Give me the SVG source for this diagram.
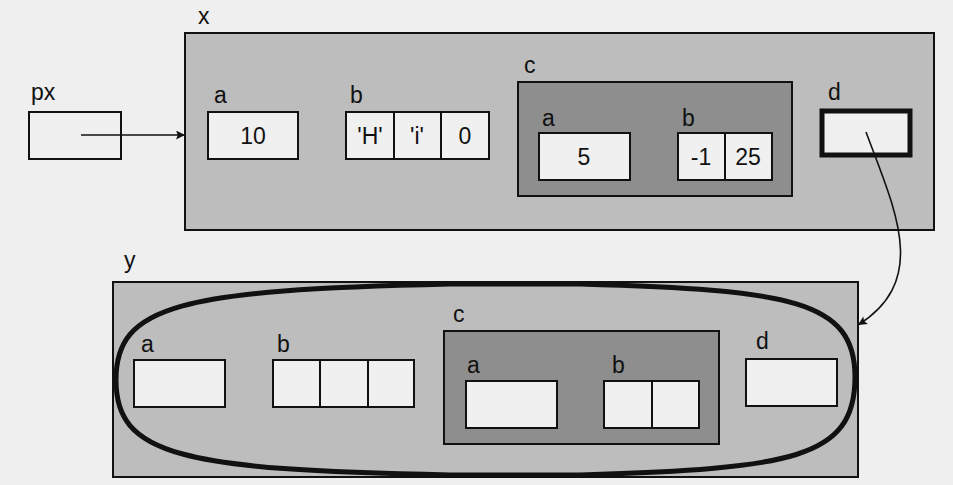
<svg xmlns="http://www.w3.org/2000/svg" width="953" height="485" viewBox="0 0 953 485">
<defs>
<style>
.lbl{font-family:"Liberation Sans",Arial,sans-serif;font-size:23px;fill:#111}
.val{font-family:"Liberation Sans",Arial,sans-serif;font-size:23px;fill:#111;text-anchor:middle}
.cell{fill:#f0f0f0;stroke:#111;stroke-width:2}
.outer{fill:#bdbdbd;stroke:#111;stroke-width:2}
.inner{fill:#8e8e8e;stroke:#111;stroke-width:2}
.conn{fill:none;stroke:#111;stroke-width:1.6}
</style>
<marker id="ah" viewBox="0 0 10 10" refX="10" refY="5" markerWidth="13" markerHeight="9" markerUnits="userSpaceOnUse" orient="auto">
<path d="M0,0 L10,5 L0,10 L2,5 Z" fill="#111"/>
</marker>
</defs>
<rect x="0" y="0" width="953" height="485" fill="#efefef"/>

<g id="px">
<text class="lbl" x="31" y="100">px</text>
<rect class="cell" x="29" y="112" width="92" height="47"/>
</g>

<g id="x">
<text class="lbl" x="198" y="24">x</text>
<rect class="outer" x="185" y="33" width="749" height="197"/>
<g id="x-a">
<text class="lbl" x="214" y="103">a</text>
<rect class="cell" x="208" y="112" width="90" height="47"/>
<text class="val" x="253" y="144">10</text>
</g>
<g id="x-b">
<text class="lbl" x="350" y="103">b</text>
<rect class="cell" x="346" y="112" width="143" height="47"/>
<line x1="394" y1="112" x2="394" y2="159" stroke="#111" stroke-width="2"/>
<line x1="441" y1="112" x2="441" y2="159" stroke="#111" stroke-width="2"/>
<text class="val" x="370" y="144">'H'</text>
<text class="val" x="417" y="144">'i'</text>
<text class="val" x="465" y="144">0</text>
</g>
<g id="x-c">
<text class="lbl" x="524" y="73">c</text>
<rect class="inner" x="518" y="82" width="274" height="114"/>
<text class="lbl" x="542" y="126">a</text>
<rect class="cell" x="539" y="133" width="91" height="47"/>
<text class="val" x="584" y="165">5</text>
<text class="lbl" x="682" y="126">b</text>
<rect class="cell" x="678" y="133" width="94" height="47"/>
<line x1="725" y1="133" x2="725" y2="180" stroke="#111" stroke-width="2"/>
<text class="val" x="701" y="165">-1</text>
<text class="val" x="748" y="165">25</text>
</g>
<g id="x-d">
<text class="lbl" x="828" y="100">d</text>
<rect x="822" y="111" width="88" height="44" fill="#f0f0f0" stroke="#111" stroke-width="5"/>
</g>
</g>

<g id="y">
<text class="lbl" x="124" y="268">y</text>
<rect class="outer" x="113" y="282" width="745" height="195"/>
<g id="y-a">
<text class="lbl" x="141" y="352">a</text>
<rect class="cell" x="134" y="360" width="91" height="47"/>
</g>
<g id="y-b">
<text class="lbl" x="277" y="352">b</text>
<rect class="cell" x="273" y="360" width="141" height="47"/>
<line x1="320" y1="360" x2="320" y2="407" stroke="#111" stroke-width="2"/>
<line x1="368" y1="360" x2="368" y2="407" stroke="#111" stroke-width="2"/>
</g>
<g id="y-c">
<text class="lbl" x="453" y="322">c</text>
<rect class="inner" x="444" y="331" width="275" height="113"/>
<text class="lbl" x="467" y="373">a</text>
<rect class="cell" x="466" y="381" width="91" height="47"/>
<text class="lbl" x="612" y="373">b</text>
<rect class="cell" x="604" y="381" width="95" height="47"/>
<line x1="652" y1="381" x2="652" y2="428" stroke="#111" stroke-width="2"/>
</g>
<g id="y-d">
<text class="lbl" x="756" y="349">d</text>
<rect class="cell" x="746" y="359" width="91" height="47"/>
</g>
<path id="y-outline" d="M116 380 C116 305 180 290 450 284 L580 284 C790 290 855 300 855 377 C855 460 790 468 580 475 L450 475 C180 470 116 455 116 380 Z" fill="none" stroke="#111" stroke-width="5"/>
</g>

<g id="connectors">
<path class="conn" d="M81 135 L185 135" marker-end="url(#ah)"/>
<path class="conn" d="M866 132 C895 210 930 280 858 325" marker-end="url(#ah)"/>
</g>
</svg>
